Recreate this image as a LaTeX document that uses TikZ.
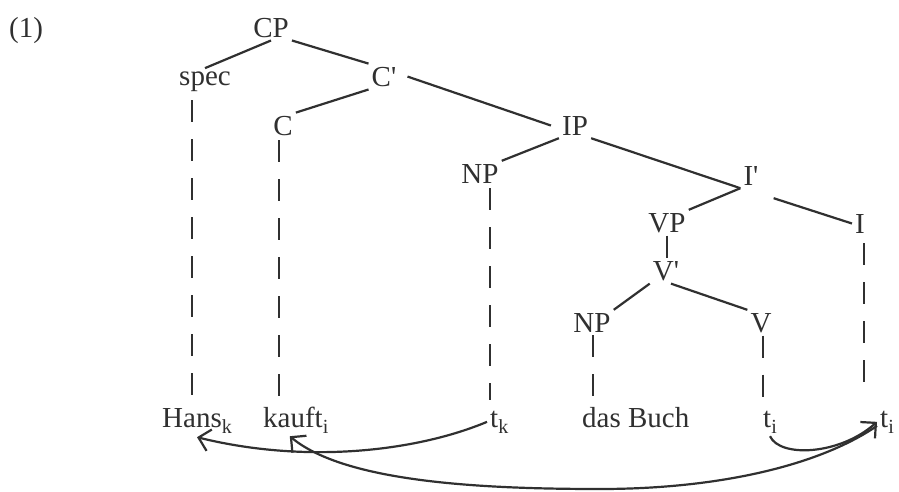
\documentclass[tikz,border=0pt]{standalone}
\usepackage{fontspec}
\setmainfont{Liberation Serif}
\usetikzlibrary{arrows.meta}
\newcommand\sbx[1]{\raisebox{-6pt}{\fontsize{20}{22}\selectfont #1}}
\definecolor{ink}{HTML}{303030}
\begin{document}
\begin{tikzpicture}[x=1pt,y=-1pt,
  every node/.style={font=\fontsize{29}{35}\selectfont, text=ink, inner sep=3pt},
  lbl/.style={anchor=base},
  word/.style={anchor=base west},
  edge/.style={draw=ink, line width=2.2pt},
  dl/.style={draw=ink, line width=2pt, dash pattern=on 22pt off 17pt},
  mv/.style={draw=ink, line width=2.2pt, -{Straight Barb[length=11pt,width=22pt]}}]
\fill[white] (0,0) rectangle (899,491);
\useasboundingbox (0,0) rectangle (899,491);

\node[lbl] (ex) at (26,37) {(1)};
\node[lbl] (CP) at (271,37) {CP};
\node[lbl] (spec) at (205,85) {spec};
\node[lbl] (Cbar) at (384,86) {C\textquotesingle};
\node[lbl] (C) at (283,135) {C};
\node[lbl] (IP) at (575,135) {IP};
\node[lbl] (NPa) at (480,183) {NP};
\node[lbl] (Ibar) at (751,185) {I\textquotesingle};
\node[lbl] (VP) at (667,232) {VP};
\node[lbl] (I) at (860,233) {I};
\node[lbl] (Vbar) at (666,280) {V\textquotesingle};
\node[lbl] (NPb) at (592,332) {NP};
\node[lbl] (V) at (761,332) {V};

\node[word] (Hans) at (159,427) {Hans\sbx{k}};
\node[word] (kauft) at (260,427) {kauft\sbx{i}};
\node[word] (tk) at (487,427) {t\sbx{k}};
\node[word] (Buch) at (579,427) {das Buch};
\node[word] (tiV) at (760,427) {t\sbx{i}};
\node[word] (tiI) at (877,427) {t\sbx{i}};

\draw[edge] (CP.south) -- (spec.north);
\draw[edge] (CP.south east) -- (Cbar.north west);
\draw[edge] (Cbar.south west) -- (C.north east);
\draw[edge] ([xshift=8pt]Cbar.east) -- ([xshift=-8pt]IP.west);
\draw[edge] (IP.south west) -- (NPa.north east);
\draw[edge] (IP.south east) -- (Ibar.south west);
\draw[edge] (Ibar.south west) -- (VP.north east);
\draw[edge] ([xshift=12pt,yshift=-10pt]Ibar.south east) -- (I.west);
\draw[edge] (VP.south) -- (VP.south |- Vbar.north);
\draw[edge] (Vbar.south west) -- (NPb.north east);
\draw[edge] ([xshift=5pt]Vbar.south) -- (V.north west);

\draw[dl, shorten <=6pt] ([xshift=-13pt]spec.south) -- ([xshift=-13pt]spec.south |- Hans.north);
\draw[dl, shorten <=2pt] ([xshift=-4pt]C.south) -- ([xshift=-4pt]C.south |- kauft.north);
\draw[dl, shorten <=2pt, shorten >=7pt] ([xshift=10pt]NPa.south) -- ([xshift=10pt]NPa.south |- tk.north);
\draw[dl, shorten >=4pt] ([xshift=1pt]NPb.south) -- ([xshift=1pt]NPb.south |- Buch.north);
\draw[dl, shorten >=4pt] ([xshift=2pt]V.south) -- ([xshift=2pt]V.south |- tiV.north);
\draw[dl, shorten <=7pt, shorten >=15pt] ([xshift=4pt]I.south) -- ([xshift=4pt]I.south |- tiI.north);

\draw[mv] (tk.west) .. controls (420,450) and (310,465) .. ([yshift=-1pt]Hans.south);
\draw[mv] (tiV.south) .. controls (780,458) and (840,455) .. (tiI.west);
\draw[mv] ([yshift=-4pt]tiI.west) .. controls (820,465) and (720,489) .. (600,489)
  .. controls (480,489) and (345,482) .. ([xshift=-6pt]kauft.south);
\end{tikzpicture}
\end{document}
